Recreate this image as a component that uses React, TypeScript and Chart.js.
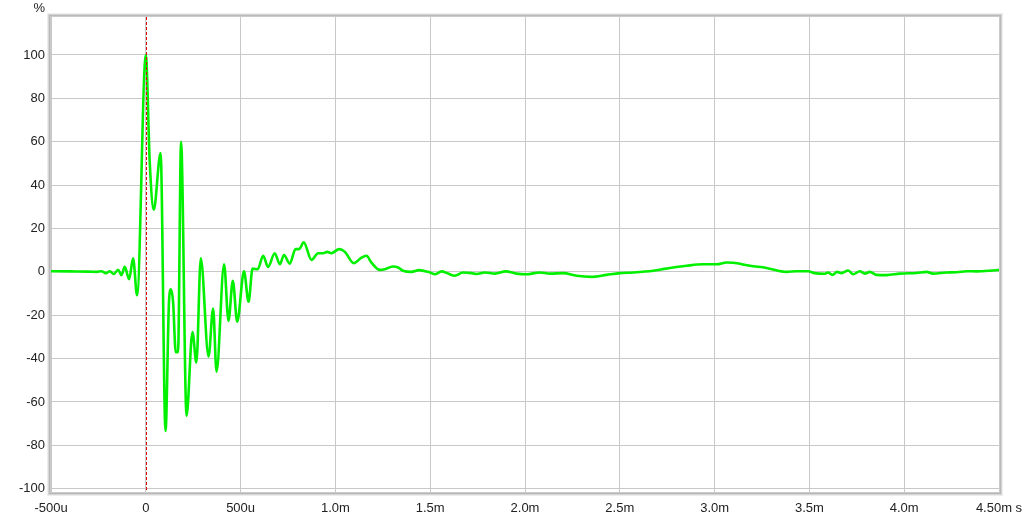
import { useEffect, useRef } from "react";
import Chart from "chart.js/auto";

// Impulse response: time in milliseconds, amplitude in percent
const timeMs = [
  -0.5, -0.4, -0.3, -0.26, -0.234, -0.211, -0.19, -0.169, -0.146, -0.128, -0.111, -0.088, -0.067, -0.046,
  0, 0.021, 0.042, 0.078, 0.104, 0.123, 0.133, 0.144, 0.158, 0.17, 0.186, 0.215, 0.246, 0.267, 0.29,
  0.331, 0.355, 0.373, 0.413, 0.436, 0.459, 0.482, 0.518, 0.542, 0.563, 0.59, 0.619, 0.645, 0.68,
  0.707, 0.729, 0.759, 0.79, 0.809, 0.833, 0.874, 0.909, 0.935, 0.956, 0.979, 1.02, 1.05, 1.097,
  1.138, 1.164, 1.19, 1.234, 1.261, 1.304, 1.331, 1.357, 1.401, 1.441, 1.489, 1.524, 1.56, 1.594,
  1.63, 1.673, 1.718, 1.744, 1.788, 1.841, 1.899, 1.955, 2.008, 2.078, 2.131, 2.201, 2.272, 2.351,
  2.43, 2.5, 2.57, 2.676, 2.746, 2.852, 2.939, 3.01, 3.063, 3.098, 3.186, 3.274, 3.379, 3.432,
  3.493, 3.528, 3.581, 3.599, 3.622, 3.646, 3.669, 3.704, 3.731, 3.766, 3.792, 3.819, 3.854, 3.907,
  3.977, 4.065, 4.118, 4.152, 4.223, 4.276, 4.329, 4.381, 4.451, 4.5,
];
const amplitude = [
  0.3, 0.2, 0.1, 0, 0.3, -0.6, 0.3, -1, 1, -1.5, 2.3, -3.4, 6.2, -10.8,
  100, 50, 28.6, 54.8, -73.4, -12.6, -8, -14, -37, -37, 60, -66.4, -27.7, -41.8, 6.2,
  -39, -16.9, -46, 3.5, -22.6, -4.1, -23, 0.2, -13.8, 1.5, 1.2, 7.4, 2.3, 8.6,
  3.5, 7.8, 3.8, 10.5, 10.5, 13.6, 5.5, 8.6, 8.6, 9.2, 8.6, 10.5, 9.2, 4,
  6.6, 7.4, 4.3, 0.9, 1.2, 2.5, 2, 0.5, 0, 0.8, 0, -1.1, 0.2, -0.8,
  -1.8, -0.3, -0.6, -1.0, -0.3, -0.8, 0.2, -0.8, -1.1, -0.3, -0.8, -0.6, -1.8, -2.3,
  -1.4, -0.6, -0.3, 0.5, 1.5, 2.8, 3.5, 3.5, 4.3, 4.2, 2.8, 1.8, 0, 0.3,
  0.3, -0.6, -0.9, -0.3, -1.4, 0, -0.6, 0.6, -1.1, 0.3, -0.8, 0, -1.4, -1.5,
  -0.8, -0.5, 0, -0.8, -0.3, -0.2, 0.3, 0.2, 0.5, 0.9,
];

const xTickValues = [-0.5, 0, 0.5, 1, 1.5, 2, 2.5, 3, 3.5, 4, 4.5];
const xTickLabels = ["-500u", "0", "500u", "1.0m", "1.5m", "2.0m", "2.5m", "3.0m", "3.5m", "4.0m", "4.50m s"];
const yTickValues = [-100, -80, -60, -40, -20, 0, 20, 40, 60, 80, 100];
const yUnit = "%";
const markerTime = 0;

const FONT = "'Liberation Sans', Arial, sans-serif";

export default function App() {
  const ref = useRef<HTMLCanvasElement>(null);

  useEffect(() => {
    if (!ref.current) return;
    const data = timeMs.map((t, i) => ({ x: t, y: amplitude[i] }));

    const framePlugin = {
      id: "frame",
      afterDatasetsDraw(chart: any) {
        const { ctx, chartArea, scales } = chart;
        const x = Math.round(scales.x.getPixelForValue(markerTime)) + 0.5;
        ctx.save();
        ctx.strokeStyle = "#e00000";
        ctx.lineWidth = 1;
        ctx.setLineDash([3, 2]);
        ctx.beginPath();
        ctx.moveTo(x, chartArea.top);
        ctx.lineTo(x, chartArea.bottom);
        ctx.stroke();
        ctx.restore();
      },
      afterDraw(chart: any) {
        const { ctx, chartArea } = chart;
        const { left, top, right, bottom } = chartArea;
        ctx.save();
        const rings: [number, string][] = [
          [3, "#ededed"],
          [2, "#d6d6d6"],
          [1, "#b8b8b8"],
          [0, "#cacaca"],
        ];
        ctx.lineWidth = 1;
        for (const [i, c] of rings) {
          ctx.strokeStyle = c;
          ctx.strokeRect(
            Math.round(left) - i - 0.5,
            Math.round(top) - i - 0.5,
            Math.round(right) - Math.round(left) + 2 * i + 1,
            Math.round(bottom) - Math.round(top) + 2 * i + 1
          );
        }
        ctx.fillStyle = "#222";
        ctx.font = `13px ${FONT}`;
        ctx.textAlign = "right";
        ctx.textBaseline = "alphabetic";
        ctx.fillText(yUnit, 45, 12);
        ctx.restore();
      },
    };

    const chart = new Chart(ref.current, {
      type: "line",
      data: {
        datasets: [
          {
            data,
            borderColor: "#00f000",
            borderWidth: 2.6,
            pointRadius: 0,
            fill: false,
            cubicInterpolationMode: "monotone",
          },
        ],
      },
      options: {
        animation: false,
        responsive: false,
        maintainAspectRatio: false,
        layout: { padding: { left: 0, right: 25, top: 17, bottom: 0 } },
        plugins: { legend: { display: false }, tooltip: { enabled: false } },
        scales: {
          x: {
            type: "linear",
            min: -0.5,
            max: 4.5,
            afterBuildTicks: (s: any) => {
              s.ticks = xTickValues.map((v) => ({ value: v }));
            },
            afterFit: (s: any) => {
              s.height = 26;
              s.paddingLeft = 0;
              s.paddingRight = 0;
            },
            grid: { color: "#c8c8c8", drawTicks: false },
            border: { display: false },
            ticks: {
              autoSkip: false,
              maxRotation: 0,
              padding: 9,
              color: "#222",
              font: { family: FONT, size: 13 },
              callback: (v: any) => {
                const i = xTickValues.findIndex((t) => Math.abs(t - Number(v)) < 1e-6);
                return i >= 0 ? xTickLabels[i] : "";
              },
            },
          },
          y: {
            type: "linear",
            min: -101.5,
            max: 117.5,
            afterBuildTicks: (s: any) => {
              s.ticks = yTickValues.map((v) => ({ value: v }));
            },
            afterFit: (s: any) => {
              s.width = 51;
              s.paddingTop = 0;
              s.paddingBottom = 0;
            },
            grid: { color: "#c8c8c8", drawTicks: false },
            border: { display: false },
            ticks: {
              padding: 6,
              color: "#222",
              font: { family: FONT, size: 13 },
              callback: (v: any) => String(v),
            },
          },
        },
      },
      plugins: [framePlugin],
    } as any);

    return () => chart.destroy();
  }, []);

  return (
    <div style={{ position: "fixed", left: 0, top: 0, width: 1024, height: 518, background: "#ffffff" }}>
      <canvas ref={ref} width={1024} height={518} style={{ display: "block" }} />
    </div>
  );
}
